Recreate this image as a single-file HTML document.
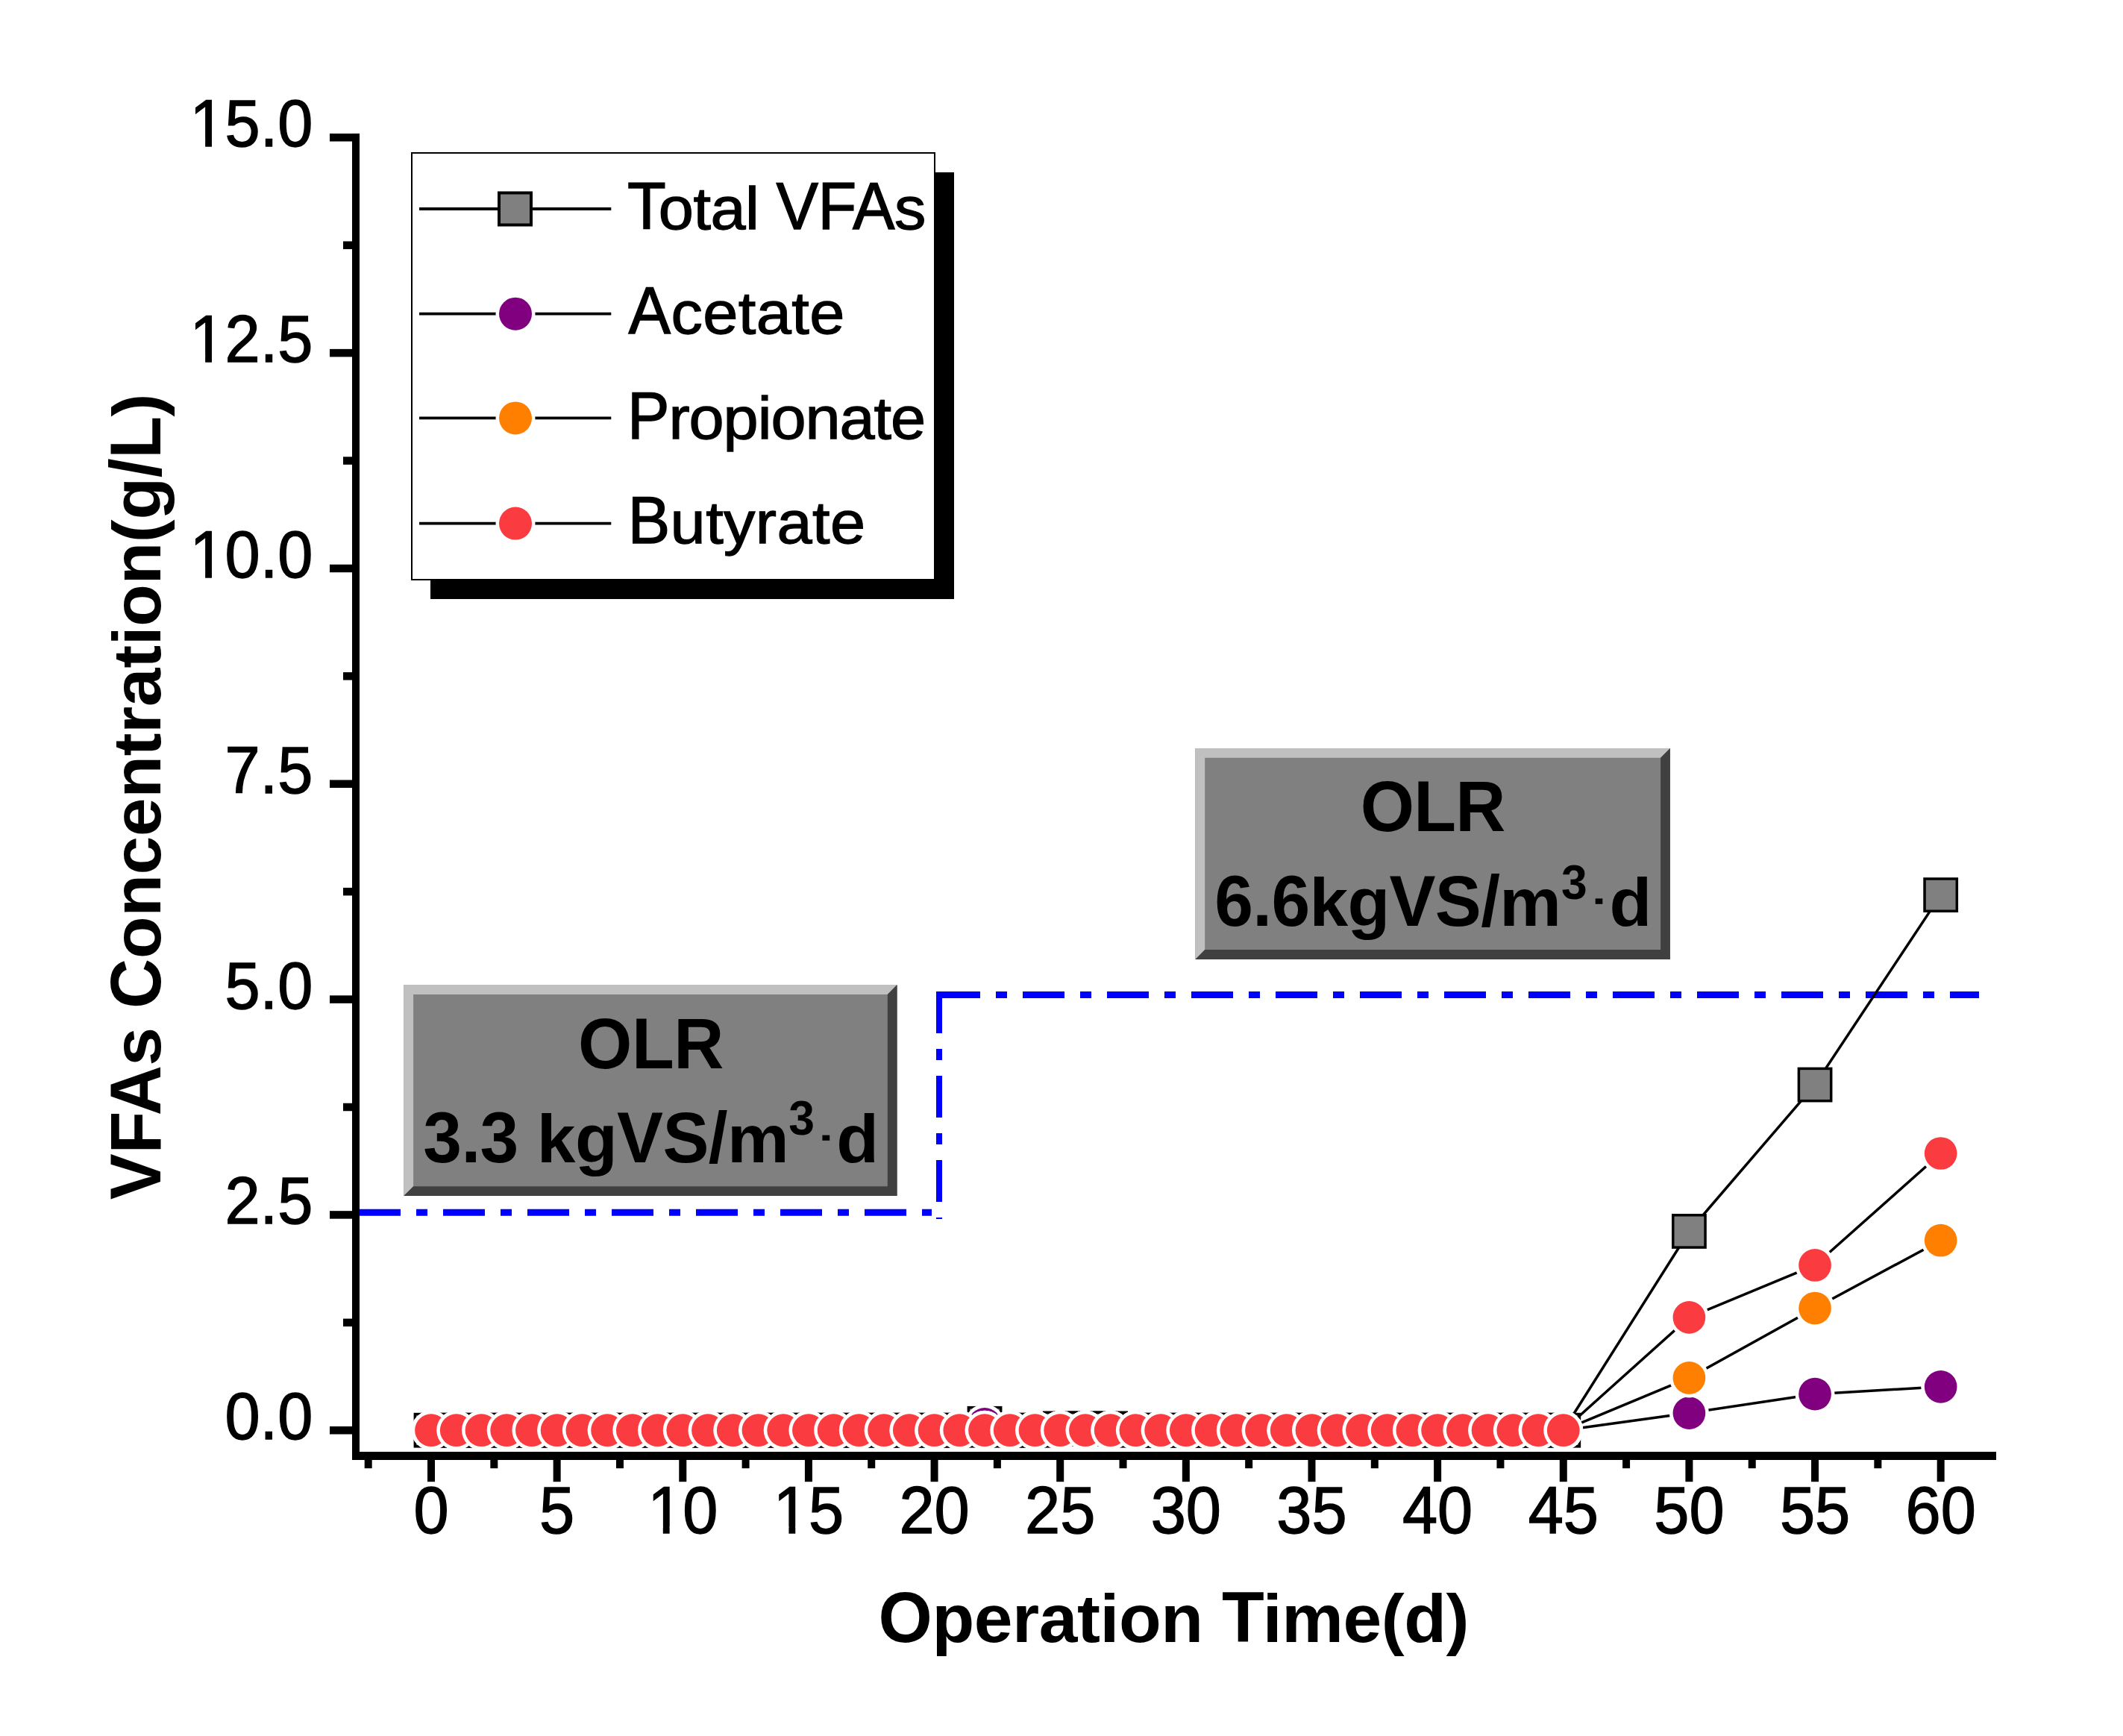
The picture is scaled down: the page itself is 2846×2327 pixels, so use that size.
<!DOCTYPE html><html><head><meta charset="utf-8"><style>html,body{margin:0;padding:0;background:#fff;overflow:hidden}svg{display:block}</style></head><body>
<svg width="2846" height="2327" viewBox="0 0 2846 2327" style="font-family:'Liberation Sans',sans-serif">
<rect x="0" y="0" width="2846" height="2327" fill="#fff"/>
<rect x="541.3" y="1320.1" width="661.3" height="282.9" fill="#808080"/>
<polygon points="541.3,1320.1 1202.6,1320.1 1189.8,1332.9 554.1,1332.9 554.1,1590.2 541.3,1603" fill="#C0C0C0"/>
<polygon points="1202.6,1320.1 1202.6,1603 541.3,1603 554.1,1590.2 1189.8,1590.2 1189.8,1332.9" fill="#404040"/>
<rect x="1602.4" y="1003" width="636.5" height="282.9" fill="#808080"/>
<polygon points="1602.4,1003 2238.9,1003 2226.1,1015.8 1615.2,1015.8 1615.2,1273.1 1602.4,1285.9" fill="#C0C0C0"/>
<polygon points="2238.9,1003 2238.9,1285.9 1602.4,1285.9 1615.2,1273.1 2226.1,1273.1 2226.1,1015.8" fill="#404040"/>
<text transform="translate(775.10,1431.70) scale(0.9607,1)" font-size="96.8" font-weight="bold" fill="#000" style="letter-spacing:-0.468px">OLR</text>
<text transform="translate(567.30,1557.80) scale(0.9607,1.0)" font-size="96.8" font-weight="bold" fill="#000" style="letter-spacing:-0.659px">3.3</text>
<text transform="translate(719.86,1557.80) scale(0.9607,0.945)" font-size="96.8" font-weight="bold" fill="#000" style="letter-spacing:-0.659px">kg</text>
<text transform="translate(827.10,1557.80) scale(0.9607,1.0)" font-size="96.8" font-weight="bold" fill="#000" style="letter-spacing:-0.659px">VS/</text>
<text transform="translate(975.07,1557.80) scale(0.9607,0.945)" font-size="96.8" font-weight="bold" fill="#000" style="letter-spacing:-0.659px">m</text>
<text transform="translate(1057.30,1521.40) scale(0.9607,1)" font-size="65" font-weight="bold" fill="#000">3</text>
<text transform="translate(1121.30,1557.80) scale(0.9607,0.945)" font-size="96.8" font-weight="bold" fill="#000">d</text>
<text transform="translate(1823.70,1114.40) scale(0.9607,1)" font-size="96.8" font-weight="bold" fill="#000" style="letter-spacing:-0.781px">OLR</text>
<text transform="translate(1628.30,1241.20) scale(0.9607,1.0)" font-size="96.8" font-weight="bold" fill="#000" style="letter-spacing:-0.742px">6.6</text>
<text transform="translate(1755.41,1241.20) scale(0.9607,0.945)" font-size="96.8" font-weight="bold" fill="#000" style="letter-spacing:-0.742px">kg</text>
<text transform="translate(1862.51,1241.20) scale(0.9607,1.0)" font-size="96.8" font-weight="bold" fill="#000" style="letter-spacing:-0.742px">VS/</text>
<text transform="translate(2010.25,1241.20) scale(0.9607,0.945)" font-size="96.8" font-weight="bold" fill="#000" style="letter-spacing:-0.742px">m</text>
<text transform="translate(2093.00,1204.50) scale(0.9607,1)" font-size="65" font-weight="bold" fill="#000">3</text>
<text transform="translate(2157.50,1241.20) scale(0.9607,0.945)" font-size="96.8" font-weight="bold" fill="#000">d</text>
<rect x="1102.4" y="1521.6" width="9.8" height="7.2" fill="#000"/>
<rect x="2138.7" y="1204.4" width="9.6" height="7.4" fill="#000"/>
<line x1="481" y1="1625.2" x2="1249" y2="1625.2" stroke="#0000FF" stroke-width="9" stroke-dasharray="56 21 15 21"/>
<line x1="1259" y1="1329" x2="1259" y2="1634" stroke="#0000FF" stroke-width="8" stroke-dasharray="56 21 15 21"/>
<line x1="1258" y1="1333.4" x2="2653" y2="1333.4" stroke="#0000FF" stroke-width="9" stroke-dasharray="56 21 15 21"/>
<rect x="1255" y="1329" width="4" height="9" fill="#0000FF"/>
<path d="M578.00,1917.20 L611.73,1917.20 L645.46,1917.20 L679.18,1917.20 L712.91,1917.20 L746.64,1917.20 L780.37,1917.20 L814.10,1917.20 L847.82,1917.20 L881.55,1917.20 L915.28,1917.20 L949.01,1917.20 L982.74,1917.20 L1016.46,1917.20 L1050.19,1917.20 L1083.92,1917.20 L1117.65,1917.20 L1151.38,1917.20 L1185.10,1917.20 L1218.83,1917.20 L1252.56,1917.20 L1286.29,1917.20 L1320.02,1908.30 L1353.74,1917.20 L1387.47,1917.20 L1421.20,1914.89 L1454.93,1914.89 L1488.66,1914.89 L1522.38,1917.20 L1556.11,1917.20 L1589.84,1917.20 L1623.57,1917.20 L1657.30,1917.20 L1691.02,1917.20 L1724.75,1917.20 L1758.48,1917.20 L1792.21,1917.20 L1825.94,1917.20 L1859.66,1917.20 L1893.39,1917.20 L1927.12,1917.20 L1960.85,1917.20 L1994.58,1917.20 L2028.30,1917.20 L2062.03,1917.20 L2095.76,1917.20 L2264.40,1650.44 L2433.04,1454.04 L2601.68,1199.64" fill="none" stroke="#000" stroke-width="3.5" stroke-linejoin="round"/>
<rect x="556.35" y="1895.55" width="43.3" height="43.3" fill="#808080" stroke="#000" stroke-width="3.5"/>
<rect x="590.08" y="1895.55" width="43.3" height="43.3" fill="#808080" stroke="#000" stroke-width="3.5"/>
<rect x="623.81" y="1895.55" width="43.3" height="43.3" fill="#808080" stroke="#000" stroke-width="3.5"/>
<rect x="657.53" y="1895.55" width="43.3" height="43.3" fill="#808080" stroke="#000" stroke-width="3.5"/>
<rect x="691.26" y="1895.55" width="43.3" height="43.3" fill="#808080" stroke="#000" stroke-width="3.5"/>
<rect x="724.99" y="1895.55" width="43.3" height="43.3" fill="#808080" stroke="#000" stroke-width="3.5"/>
<rect x="758.72" y="1895.55" width="43.3" height="43.3" fill="#808080" stroke="#000" stroke-width="3.5"/>
<rect x="792.45" y="1895.55" width="43.3" height="43.3" fill="#808080" stroke="#000" stroke-width="3.5"/>
<rect x="826.17" y="1895.55" width="43.3" height="43.3" fill="#808080" stroke="#000" stroke-width="3.5"/>
<rect x="859.90" y="1895.55" width="43.3" height="43.3" fill="#808080" stroke="#000" stroke-width="3.5"/>
<rect x="893.63" y="1895.55" width="43.3" height="43.3" fill="#808080" stroke="#000" stroke-width="3.5"/>
<rect x="927.36" y="1895.55" width="43.3" height="43.3" fill="#808080" stroke="#000" stroke-width="3.5"/>
<rect x="961.09" y="1895.55" width="43.3" height="43.3" fill="#808080" stroke="#000" stroke-width="3.5"/>
<rect x="994.81" y="1895.55" width="43.3" height="43.3" fill="#808080" stroke="#000" stroke-width="3.5"/>
<rect x="1028.54" y="1895.55" width="43.3" height="43.3" fill="#808080" stroke="#000" stroke-width="3.5"/>
<rect x="1062.27" y="1895.55" width="43.3" height="43.3" fill="#808080" stroke="#000" stroke-width="3.5"/>
<rect x="1096.00" y="1895.55" width="43.3" height="43.3" fill="#808080" stroke="#000" stroke-width="3.5"/>
<rect x="1129.73" y="1895.55" width="43.3" height="43.3" fill="#808080" stroke="#000" stroke-width="3.5"/>
<rect x="1163.45" y="1895.55" width="43.3" height="43.3" fill="#808080" stroke="#000" stroke-width="3.5"/>
<rect x="1197.18" y="1895.55" width="43.3" height="43.3" fill="#808080" stroke="#000" stroke-width="3.5"/>
<rect x="1230.91" y="1895.55" width="43.3" height="43.3" fill="#808080" stroke="#000" stroke-width="3.5"/>
<rect x="1264.64" y="1895.55" width="43.3" height="43.3" fill="#808080" stroke="#000" stroke-width="3.5"/>
<rect x="1298.37" y="1886.65" width="43.3" height="43.3" fill="#808080" stroke="#000" stroke-width="3.5"/>
<rect x="1332.09" y="1895.55" width="43.3" height="43.3" fill="#808080" stroke="#000" stroke-width="3.5"/>
<rect x="1365.82" y="1895.55" width="43.3" height="43.3" fill="#808080" stroke="#000" stroke-width="3.5"/>
<rect x="1399.55" y="1893.24" width="43.3" height="43.3" fill="#808080" stroke="#000" stroke-width="3.5"/>
<rect x="1433.28" y="1893.24" width="43.3" height="43.3" fill="#808080" stroke="#000" stroke-width="3.5"/>
<rect x="1467.01" y="1893.24" width="43.3" height="43.3" fill="#808080" stroke="#000" stroke-width="3.5"/>
<rect x="1500.73" y="1895.55" width="43.3" height="43.3" fill="#808080" stroke="#000" stroke-width="3.5"/>
<rect x="1534.46" y="1895.55" width="43.3" height="43.3" fill="#808080" stroke="#000" stroke-width="3.5"/>
<rect x="1568.19" y="1895.55" width="43.3" height="43.3" fill="#808080" stroke="#000" stroke-width="3.5"/>
<rect x="1601.92" y="1895.55" width="43.3" height="43.3" fill="#808080" stroke="#000" stroke-width="3.5"/>
<rect x="1635.65" y="1895.55" width="43.3" height="43.3" fill="#808080" stroke="#000" stroke-width="3.5"/>
<rect x="1669.37" y="1895.55" width="43.3" height="43.3" fill="#808080" stroke="#000" stroke-width="3.5"/>
<rect x="1703.10" y="1895.55" width="43.3" height="43.3" fill="#808080" stroke="#000" stroke-width="3.5"/>
<rect x="1736.83" y="1895.55" width="43.3" height="43.3" fill="#808080" stroke="#000" stroke-width="3.5"/>
<rect x="1770.56" y="1895.55" width="43.3" height="43.3" fill="#808080" stroke="#000" stroke-width="3.5"/>
<rect x="1804.29" y="1895.55" width="43.3" height="43.3" fill="#808080" stroke="#000" stroke-width="3.5"/>
<rect x="1838.01" y="1895.55" width="43.3" height="43.3" fill="#808080" stroke="#000" stroke-width="3.5"/>
<rect x="1871.74" y="1895.55" width="43.3" height="43.3" fill="#808080" stroke="#000" stroke-width="3.5"/>
<rect x="1905.47" y="1895.55" width="43.3" height="43.3" fill="#808080" stroke="#000" stroke-width="3.5"/>
<rect x="1939.20" y="1895.55" width="43.3" height="43.3" fill="#808080" stroke="#000" stroke-width="3.5"/>
<rect x="1972.93" y="1895.55" width="43.3" height="43.3" fill="#808080" stroke="#000" stroke-width="3.5"/>
<rect x="2006.65" y="1895.55" width="43.3" height="43.3" fill="#808080" stroke="#000" stroke-width="3.5"/>
<rect x="2040.38" y="1895.55" width="43.3" height="43.3" fill="#808080" stroke="#000" stroke-width="3.5"/>
<rect x="2074.11" y="1895.55" width="43.3" height="43.3" fill="#808080" stroke="#000" stroke-width="3.5"/>
<rect x="2242.75" y="1628.79" width="43.3" height="43.3" fill="#808080" stroke="#000" stroke-width="3.5"/>
<rect x="2411.39" y="1432.39" width="43.3" height="43.3" fill="#808080" stroke="#000" stroke-width="3.5"/>
<rect x="2580.03" y="1177.99" width="43.3" height="43.3" fill="#808080" stroke="#000" stroke-width="3.5"/>
<path d="M578.00,1917.20 L611.73,1917.20 L645.46,1917.20 L679.18,1917.20 L712.91,1917.20 L746.64,1917.20 L780.37,1917.20 L814.10,1917.20 L847.82,1917.20 L881.55,1917.20 L915.28,1917.20 L949.01,1917.20 L982.74,1917.20 L1016.46,1917.20 L1050.19,1917.20 L1083.92,1917.20 L1117.65,1917.20 L1151.38,1917.20 L1185.10,1917.20 L1218.83,1917.20 L1252.56,1917.20 L1286.29,1917.20 L1320.02,1908.82 L1353.74,1917.20 L1387.47,1917.20 L1421.20,1917.20 L1454.93,1917.20 L1488.66,1917.20 L1522.38,1917.20 L1556.11,1917.20 L1589.84,1917.20 L1623.57,1917.20 L1657.30,1917.20 L1691.02,1917.20 L1724.75,1917.20 L1758.48,1917.20 L1792.21,1917.20 L1825.94,1917.20 L1859.66,1917.20 L1893.39,1917.20 L1927.12,1917.20 L1960.85,1917.20 L1994.58,1917.20 L2028.30,1917.20 L2062.03,1917.20 L2095.76,1917.20 L2264.40,1894.09 L2433.04,1868.68 L2601.68,1858.86" fill="none" stroke="#000" stroke-width="3.5" stroke-linejoin="round"/>
<circle cx="578.00" cy="1917.20" r="26.5" fill="#fff"/><circle cx="578.00" cy="1917.20" r="21.85" fill="#800080"/>
<circle cx="611.73" cy="1917.20" r="26.5" fill="#fff"/><circle cx="611.73" cy="1917.20" r="21.85" fill="#800080"/>
<circle cx="645.46" cy="1917.20" r="26.5" fill="#fff"/><circle cx="645.46" cy="1917.20" r="21.85" fill="#800080"/>
<circle cx="679.18" cy="1917.20" r="26.5" fill="#fff"/><circle cx="679.18" cy="1917.20" r="21.85" fill="#800080"/>
<circle cx="712.91" cy="1917.20" r="26.5" fill="#fff"/><circle cx="712.91" cy="1917.20" r="21.85" fill="#800080"/>
<circle cx="746.64" cy="1917.20" r="26.5" fill="#fff"/><circle cx="746.64" cy="1917.20" r="21.85" fill="#800080"/>
<circle cx="780.37" cy="1917.20" r="26.5" fill="#fff"/><circle cx="780.37" cy="1917.20" r="21.85" fill="#800080"/>
<circle cx="814.10" cy="1917.20" r="26.5" fill="#fff"/><circle cx="814.10" cy="1917.20" r="21.85" fill="#800080"/>
<circle cx="847.82" cy="1917.20" r="26.5" fill="#fff"/><circle cx="847.82" cy="1917.20" r="21.85" fill="#800080"/>
<circle cx="881.55" cy="1917.20" r="26.5" fill="#fff"/><circle cx="881.55" cy="1917.20" r="21.85" fill="#800080"/>
<circle cx="915.28" cy="1917.20" r="26.5" fill="#fff"/><circle cx="915.28" cy="1917.20" r="21.85" fill="#800080"/>
<circle cx="949.01" cy="1917.20" r="26.5" fill="#fff"/><circle cx="949.01" cy="1917.20" r="21.85" fill="#800080"/>
<circle cx="982.74" cy="1917.20" r="26.5" fill="#fff"/><circle cx="982.74" cy="1917.20" r="21.85" fill="#800080"/>
<circle cx="1016.46" cy="1917.20" r="26.5" fill="#fff"/><circle cx="1016.46" cy="1917.20" r="21.85" fill="#800080"/>
<circle cx="1050.19" cy="1917.20" r="26.5" fill="#fff"/><circle cx="1050.19" cy="1917.20" r="21.85" fill="#800080"/>
<circle cx="1083.92" cy="1917.20" r="26.5" fill="#fff"/><circle cx="1083.92" cy="1917.20" r="21.85" fill="#800080"/>
<circle cx="1117.65" cy="1917.20" r="26.5" fill="#fff"/><circle cx="1117.65" cy="1917.20" r="21.85" fill="#800080"/>
<circle cx="1151.38" cy="1917.20" r="26.5" fill="#fff"/><circle cx="1151.38" cy="1917.20" r="21.85" fill="#800080"/>
<circle cx="1185.10" cy="1917.20" r="26.5" fill="#fff"/><circle cx="1185.10" cy="1917.20" r="21.85" fill="#800080"/>
<circle cx="1218.83" cy="1917.20" r="26.5" fill="#fff"/><circle cx="1218.83" cy="1917.20" r="21.85" fill="#800080"/>
<circle cx="1252.56" cy="1917.20" r="26.5" fill="#fff"/><circle cx="1252.56" cy="1917.20" r="21.85" fill="#800080"/>
<circle cx="1286.29" cy="1917.20" r="26.5" fill="#fff"/><circle cx="1286.29" cy="1917.20" r="21.85" fill="#800080"/>
<circle cx="1320.02" cy="1908.82" r="26.5" fill="#fff"/><circle cx="1320.02" cy="1908.82" r="21.85" fill="#800080"/>
<circle cx="1353.74" cy="1917.20" r="26.5" fill="#fff"/><circle cx="1353.74" cy="1917.20" r="21.85" fill="#800080"/>
<circle cx="1387.47" cy="1917.20" r="26.5" fill="#fff"/><circle cx="1387.47" cy="1917.20" r="21.85" fill="#800080"/>
<circle cx="1421.20" cy="1917.20" r="26.5" fill="#fff"/><circle cx="1421.20" cy="1917.20" r="21.85" fill="#800080"/>
<circle cx="1454.93" cy="1917.20" r="26.5" fill="#fff"/><circle cx="1454.93" cy="1917.20" r="21.85" fill="#800080"/>
<circle cx="1488.66" cy="1917.20" r="26.5" fill="#fff"/><circle cx="1488.66" cy="1917.20" r="21.85" fill="#800080"/>
<circle cx="1522.38" cy="1917.20" r="26.5" fill="#fff"/><circle cx="1522.38" cy="1917.20" r="21.85" fill="#800080"/>
<circle cx="1556.11" cy="1917.20" r="26.5" fill="#fff"/><circle cx="1556.11" cy="1917.20" r="21.85" fill="#800080"/>
<circle cx="1589.84" cy="1917.20" r="26.5" fill="#fff"/><circle cx="1589.84" cy="1917.20" r="21.85" fill="#800080"/>
<circle cx="1623.57" cy="1917.20" r="26.5" fill="#fff"/><circle cx="1623.57" cy="1917.20" r="21.85" fill="#800080"/>
<circle cx="1657.30" cy="1917.20" r="26.5" fill="#fff"/><circle cx="1657.30" cy="1917.20" r="21.85" fill="#800080"/>
<circle cx="1691.02" cy="1917.20" r="26.5" fill="#fff"/><circle cx="1691.02" cy="1917.20" r="21.85" fill="#800080"/>
<circle cx="1724.75" cy="1917.20" r="26.5" fill="#fff"/><circle cx="1724.75" cy="1917.20" r="21.85" fill="#800080"/>
<circle cx="1758.48" cy="1917.20" r="26.5" fill="#fff"/><circle cx="1758.48" cy="1917.20" r="21.85" fill="#800080"/>
<circle cx="1792.21" cy="1917.20" r="26.5" fill="#fff"/><circle cx="1792.21" cy="1917.20" r="21.85" fill="#800080"/>
<circle cx="1825.94" cy="1917.20" r="26.5" fill="#fff"/><circle cx="1825.94" cy="1917.20" r="21.85" fill="#800080"/>
<circle cx="1859.66" cy="1917.20" r="26.5" fill="#fff"/><circle cx="1859.66" cy="1917.20" r="21.85" fill="#800080"/>
<circle cx="1893.39" cy="1917.20" r="26.5" fill="#fff"/><circle cx="1893.39" cy="1917.20" r="21.85" fill="#800080"/>
<circle cx="1927.12" cy="1917.20" r="26.5" fill="#fff"/><circle cx="1927.12" cy="1917.20" r="21.85" fill="#800080"/>
<circle cx="1960.85" cy="1917.20" r="26.5" fill="#fff"/><circle cx="1960.85" cy="1917.20" r="21.85" fill="#800080"/>
<circle cx="1994.58" cy="1917.20" r="26.5" fill="#fff"/><circle cx="1994.58" cy="1917.20" r="21.85" fill="#800080"/>
<circle cx="2028.30" cy="1917.20" r="26.5" fill="#fff"/><circle cx="2028.30" cy="1917.20" r="21.85" fill="#800080"/>
<circle cx="2062.03" cy="1917.20" r="26.5" fill="#fff"/><circle cx="2062.03" cy="1917.20" r="21.85" fill="#800080"/>
<circle cx="2095.76" cy="1917.20" r="26.5" fill="#fff"/><circle cx="2095.76" cy="1917.20" r="21.85" fill="#800080"/>
<circle cx="2264.40" cy="1894.09" r="26.5" fill="#fff"/><circle cx="2264.40" cy="1894.09" r="21.85" fill="#800080"/>
<circle cx="2433.04" cy="1868.68" r="26.5" fill="#fff"/><circle cx="2433.04" cy="1868.68" r="21.85" fill="#800080"/>
<circle cx="2601.68" cy="1858.86" r="26.5" fill="#fff"/><circle cx="2601.68" cy="1858.86" r="21.85" fill="#800080"/>
<path d="M578.00,1917.20 L611.73,1917.20 L645.46,1917.20 L679.18,1917.20 L712.91,1917.20 L746.64,1917.20 L780.37,1917.20 L814.10,1917.20 L847.82,1917.20 L881.55,1917.20 L915.28,1917.20 L949.01,1917.20 L982.74,1917.20 L1016.46,1917.20 L1050.19,1917.20 L1083.92,1917.20 L1117.65,1917.20 L1151.38,1917.20 L1185.10,1917.20 L1218.83,1917.20 L1252.56,1917.20 L1286.29,1917.20 L1320.02,1917.20 L1353.74,1917.20 L1387.47,1917.20 L1421.20,1917.20 L1454.93,1917.20 L1488.66,1917.20 L1522.38,1917.20 L1556.11,1917.20 L1589.84,1917.20 L1623.57,1917.20 L1657.30,1917.20 L1691.02,1917.20 L1724.75,1917.20 L1758.48,1917.20 L1792.21,1917.20 L1825.94,1917.20 L1859.66,1917.20 L1893.39,1917.20 L1927.12,1917.20 L1960.85,1917.20 L1994.58,1917.20 L2028.30,1917.20 L2062.03,1917.20 L2095.76,1917.20 L2264.40,1846.96 L2433.04,1753.49 L2601.68,1662.69" fill="none" stroke="#000" stroke-width="3.5" stroke-linejoin="round"/>
<circle cx="578.00" cy="1917.20" r="26.5" fill="#fff"/><circle cx="578.00" cy="1917.20" r="21.85" fill="#FF8000"/>
<circle cx="611.73" cy="1917.20" r="26.5" fill="#fff"/><circle cx="611.73" cy="1917.20" r="21.85" fill="#FF8000"/>
<circle cx="645.46" cy="1917.20" r="26.5" fill="#fff"/><circle cx="645.46" cy="1917.20" r="21.85" fill="#FF8000"/>
<circle cx="679.18" cy="1917.20" r="26.5" fill="#fff"/><circle cx="679.18" cy="1917.20" r="21.85" fill="#FF8000"/>
<circle cx="712.91" cy="1917.20" r="26.5" fill="#fff"/><circle cx="712.91" cy="1917.20" r="21.85" fill="#FF8000"/>
<circle cx="746.64" cy="1917.20" r="26.5" fill="#fff"/><circle cx="746.64" cy="1917.20" r="21.85" fill="#FF8000"/>
<circle cx="780.37" cy="1917.20" r="26.5" fill="#fff"/><circle cx="780.37" cy="1917.20" r="21.85" fill="#FF8000"/>
<circle cx="814.10" cy="1917.20" r="26.5" fill="#fff"/><circle cx="814.10" cy="1917.20" r="21.85" fill="#FF8000"/>
<circle cx="847.82" cy="1917.20" r="26.5" fill="#fff"/><circle cx="847.82" cy="1917.20" r="21.85" fill="#FF8000"/>
<circle cx="881.55" cy="1917.20" r="26.5" fill="#fff"/><circle cx="881.55" cy="1917.20" r="21.85" fill="#FF8000"/>
<circle cx="915.28" cy="1917.20" r="26.5" fill="#fff"/><circle cx="915.28" cy="1917.20" r="21.85" fill="#FF8000"/>
<circle cx="949.01" cy="1917.20" r="26.5" fill="#fff"/><circle cx="949.01" cy="1917.20" r="21.85" fill="#FF8000"/>
<circle cx="982.74" cy="1917.20" r="26.5" fill="#fff"/><circle cx="982.74" cy="1917.20" r="21.85" fill="#FF8000"/>
<circle cx="1016.46" cy="1917.20" r="26.5" fill="#fff"/><circle cx="1016.46" cy="1917.20" r="21.85" fill="#FF8000"/>
<circle cx="1050.19" cy="1917.20" r="26.5" fill="#fff"/><circle cx="1050.19" cy="1917.20" r="21.85" fill="#FF8000"/>
<circle cx="1083.92" cy="1917.20" r="26.5" fill="#fff"/><circle cx="1083.92" cy="1917.20" r="21.85" fill="#FF8000"/>
<circle cx="1117.65" cy="1917.20" r="26.5" fill="#fff"/><circle cx="1117.65" cy="1917.20" r="21.85" fill="#FF8000"/>
<circle cx="1151.38" cy="1917.20" r="26.5" fill="#fff"/><circle cx="1151.38" cy="1917.20" r="21.85" fill="#FF8000"/>
<circle cx="1185.10" cy="1917.20" r="26.5" fill="#fff"/><circle cx="1185.10" cy="1917.20" r="21.85" fill="#FF8000"/>
<circle cx="1218.83" cy="1917.20" r="26.5" fill="#fff"/><circle cx="1218.83" cy="1917.20" r="21.85" fill="#FF8000"/>
<circle cx="1252.56" cy="1917.20" r="26.5" fill="#fff"/><circle cx="1252.56" cy="1917.20" r="21.85" fill="#FF8000"/>
<circle cx="1286.29" cy="1917.20" r="26.5" fill="#fff"/><circle cx="1286.29" cy="1917.20" r="21.85" fill="#FF8000"/>
<circle cx="1320.02" cy="1917.20" r="26.5" fill="#fff"/><circle cx="1320.02" cy="1917.20" r="21.85" fill="#FF8000"/>
<circle cx="1353.74" cy="1917.20" r="26.5" fill="#fff"/><circle cx="1353.74" cy="1917.20" r="21.85" fill="#FF8000"/>
<circle cx="1387.47" cy="1917.20" r="26.5" fill="#fff"/><circle cx="1387.47" cy="1917.20" r="21.85" fill="#FF8000"/>
<circle cx="1421.20" cy="1917.20" r="26.5" fill="#fff"/><circle cx="1421.20" cy="1917.20" r="21.85" fill="#FF8000"/>
<circle cx="1454.93" cy="1917.20" r="26.5" fill="#fff"/><circle cx="1454.93" cy="1917.20" r="21.85" fill="#FF8000"/>
<circle cx="1488.66" cy="1917.20" r="26.5" fill="#fff"/><circle cx="1488.66" cy="1917.20" r="21.85" fill="#FF8000"/>
<circle cx="1522.38" cy="1917.20" r="26.5" fill="#fff"/><circle cx="1522.38" cy="1917.20" r="21.85" fill="#FF8000"/>
<circle cx="1556.11" cy="1917.20" r="26.5" fill="#fff"/><circle cx="1556.11" cy="1917.20" r="21.85" fill="#FF8000"/>
<circle cx="1589.84" cy="1917.20" r="26.5" fill="#fff"/><circle cx="1589.84" cy="1917.20" r="21.85" fill="#FF8000"/>
<circle cx="1623.57" cy="1917.20" r="26.5" fill="#fff"/><circle cx="1623.57" cy="1917.20" r="21.85" fill="#FF8000"/>
<circle cx="1657.30" cy="1917.20" r="26.5" fill="#fff"/><circle cx="1657.30" cy="1917.20" r="21.85" fill="#FF8000"/>
<circle cx="1691.02" cy="1917.20" r="26.5" fill="#fff"/><circle cx="1691.02" cy="1917.20" r="21.85" fill="#FF8000"/>
<circle cx="1724.75" cy="1917.20" r="26.5" fill="#fff"/><circle cx="1724.75" cy="1917.20" r="21.85" fill="#FF8000"/>
<circle cx="1758.48" cy="1917.20" r="26.5" fill="#fff"/><circle cx="1758.48" cy="1917.20" r="21.85" fill="#FF8000"/>
<circle cx="1792.21" cy="1917.20" r="26.5" fill="#fff"/><circle cx="1792.21" cy="1917.20" r="21.85" fill="#FF8000"/>
<circle cx="1825.94" cy="1917.20" r="26.5" fill="#fff"/><circle cx="1825.94" cy="1917.20" r="21.85" fill="#FF8000"/>
<circle cx="1859.66" cy="1917.20" r="26.5" fill="#fff"/><circle cx="1859.66" cy="1917.20" r="21.85" fill="#FF8000"/>
<circle cx="1893.39" cy="1917.20" r="26.5" fill="#fff"/><circle cx="1893.39" cy="1917.20" r="21.85" fill="#FF8000"/>
<circle cx="1927.12" cy="1917.20" r="26.5" fill="#fff"/><circle cx="1927.12" cy="1917.20" r="21.85" fill="#FF8000"/>
<circle cx="1960.85" cy="1917.20" r="26.5" fill="#fff"/><circle cx="1960.85" cy="1917.20" r="21.85" fill="#FF8000"/>
<circle cx="1994.58" cy="1917.20" r="26.5" fill="#fff"/><circle cx="1994.58" cy="1917.20" r="21.85" fill="#FF8000"/>
<circle cx="2028.30" cy="1917.20" r="26.5" fill="#fff"/><circle cx="2028.30" cy="1917.20" r="21.85" fill="#FF8000"/>
<circle cx="2062.03" cy="1917.20" r="26.5" fill="#fff"/><circle cx="2062.03" cy="1917.20" r="21.85" fill="#FF8000"/>
<circle cx="2095.76" cy="1917.20" r="26.5" fill="#fff"/><circle cx="2095.76" cy="1917.20" r="21.85" fill="#FF8000"/>
<circle cx="2264.40" cy="1846.96" r="26.5" fill="#fff"/><circle cx="2264.40" cy="1846.96" r="21.85" fill="#FF8000"/>
<circle cx="2433.04" cy="1753.49" r="26.5" fill="#fff"/><circle cx="2433.04" cy="1753.49" r="21.85" fill="#FF8000"/>
<circle cx="2601.68" cy="1662.69" r="26.5" fill="#fff"/><circle cx="2601.68" cy="1662.69" r="21.85" fill="#FF8000"/>
<path d="M578.00,1917.20 L611.73,1917.20 L645.46,1917.20 L679.18,1917.20 L712.91,1917.20 L746.64,1917.20 L780.37,1917.20 L814.10,1917.20 L847.82,1917.20 L881.55,1917.20 L915.28,1917.20 L949.01,1917.20 L982.74,1917.20 L1016.46,1917.20 L1050.19,1917.20 L1083.92,1917.20 L1117.65,1917.20 L1151.38,1917.20 L1185.10,1917.20 L1218.83,1917.20 L1252.56,1917.20 L1286.29,1917.20 L1320.02,1917.20 L1353.74,1917.20 L1387.47,1917.20 L1421.20,1917.20 L1454.93,1917.20 L1488.66,1917.20 L1522.38,1917.20 L1556.11,1917.20 L1589.84,1917.20 L1623.57,1917.20 L1657.30,1917.20 L1691.02,1917.20 L1724.75,1917.20 L1758.48,1917.20 L1792.21,1917.20 L1825.94,1917.20 L1859.66,1917.20 L1893.39,1917.20 L1927.12,1917.20 L1960.85,1917.20 L1994.58,1917.20 L2028.30,1917.20 L2062.03,1917.20 L2095.76,1917.20 L2264.40,1765.86 L2433.04,1695.96 L2601.68,1546.00" fill="none" stroke="#000" stroke-width="3.5" stroke-linejoin="round"/>
<circle cx="578.00" cy="1917.20" r="26.5" fill="#fff"/><circle cx="578.00" cy="1917.20" r="21.85" fill="#FA3B3F"/>
<circle cx="611.73" cy="1917.20" r="26.5" fill="#fff"/><circle cx="611.73" cy="1917.20" r="21.85" fill="#FA3B3F"/>
<circle cx="645.46" cy="1917.20" r="26.5" fill="#fff"/><circle cx="645.46" cy="1917.20" r="21.85" fill="#FA3B3F"/>
<circle cx="679.18" cy="1917.20" r="26.5" fill="#fff"/><circle cx="679.18" cy="1917.20" r="21.85" fill="#FA3B3F"/>
<circle cx="712.91" cy="1917.20" r="26.5" fill="#fff"/><circle cx="712.91" cy="1917.20" r="21.85" fill="#FA3B3F"/>
<circle cx="746.64" cy="1917.20" r="26.5" fill="#fff"/><circle cx="746.64" cy="1917.20" r="21.85" fill="#FA3B3F"/>
<circle cx="780.37" cy="1917.20" r="26.5" fill="#fff"/><circle cx="780.37" cy="1917.20" r="21.85" fill="#FA3B3F"/>
<circle cx="814.10" cy="1917.20" r="26.5" fill="#fff"/><circle cx="814.10" cy="1917.20" r="21.85" fill="#FA3B3F"/>
<circle cx="847.82" cy="1917.20" r="26.5" fill="#fff"/><circle cx="847.82" cy="1917.20" r="21.85" fill="#FA3B3F"/>
<circle cx="881.55" cy="1917.20" r="26.5" fill="#fff"/><circle cx="881.55" cy="1917.20" r="21.85" fill="#FA3B3F"/>
<circle cx="915.28" cy="1917.20" r="26.5" fill="#fff"/><circle cx="915.28" cy="1917.20" r="21.85" fill="#FA3B3F"/>
<circle cx="949.01" cy="1917.20" r="26.5" fill="#fff"/><circle cx="949.01" cy="1917.20" r="21.85" fill="#FA3B3F"/>
<circle cx="982.74" cy="1917.20" r="26.5" fill="#fff"/><circle cx="982.74" cy="1917.20" r="21.85" fill="#FA3B3F"/>
<circle cx="1016.46" cy="1917.20" r="26.5" fill="#fff"/><circle cx="1016.46" cy="1917.20" r="21.85" fill="#FA3B3F"/>
<circle cx="1050.19" cy="1917.20" r="26.5" fill="#fff"/><circle cx="1050.19" cy="1917.20" r="21.85" fill="#FA3B3F"/>
<circle cx="1083.92" cy="1917.20" r="26.5" fill="#fff"/><circle cx="1083.92" cy="1917.20" r="21.85" fill="#FA3B3F"/>
<circle cx="1117.65" cy="1917.20" r="26.5" fill="#fff"/><circle cx="1117.65" cy="1917.20" r="21.85" fill="#FA3B3F"/>
<circle cx="1151.38" cy="1917.20" r="26.5" fill="#fff"/><circle cx="1151.38" cy="1917.20" r="21.85" fill="#FA3B3F"/>
<circle cx="1185.10" cy="1917.20" r="26.5" fill="#fff"/><circle cx="1185.10" cy="1917.20" r="21.85" fill="#FA3B3F"/>
<circle cx="1218.83" cy="1917.20" r="26.5" fill="#fff"/><circle cx="1218.83" cy="1917.20" r="21.85" fill="#FA3B3F"/>
<circle cx="1252.56" cy="1917.20" r="26.5" fill="#fff"/><circle cx="1252.56" cy="1917.20" r="21.85" fill="#FA3B3F"/>
<circle cx="1286.29" cy="1917.20" r="26.5" fill="#fff"/><circle cx="1286.29" cy="1917.20" r="21.85" fill="#FA3B3F"/>
<circle cx="1320.02" cy="1917.20" r="26.5" fill="#fff"/><circle cx="1320.02" cy="1917.20" r="21.85" fill="#FA3B3F"/>
<circle cx="1353.74" cy="1917.20" r="26.5" fill="#fff"/><circle cx="1353.74" cy="1917.20" r="21.85" fill="#FA3B3F"/>
<circle cx="1387.47" cy="1917.20" r="26.5" fill="#fff"/><circle cx="1387.47" cy="1917.20" r="21.85" fill="#FA3B3F"/>
<circle cx="1421.20" cy="1917.20" r="26.5" fill="#fff"/><circle cx="1421.20" cy="1917.20" r="21.85" fill="#FA3B3F"/>
<circle cx="1454.93" cy="1917.20" r="26.5" fill="#fff"/><circle cx="1454.93" cy="1917.20" r="21.85" fill="#FA3B3F"/>
<circle cx="1488.66" cy="1917.20" r="26.5" fill="#fff"/><circle cx="1488.66" cy="1917.20" r="21.85" fill="#FA3B3F"/>
<circle cx="1522.38" cy="1917.20" r="26.5" fill="#fff"/><circle cx="1522.38" cy="1917.20" r="21.85" fill="#FA3B3F"/>
<circle cx="1556.11" cy="1917.20" r="26.5" fill="#fff"/><circle cx="1556.11" cy="1917.20" r="21.85" fill="#FA3B3F"/>
<circle cx="1589.84" cy="1917.20" r="26.5" fill="#fff"/><circle cx="1589.84" cy="1917.20" r="21.85" fill="#FA3B3F"/>
<circle cx="1623.57" cy="1917.20" r="26.5" fill="#fff"/><circle cx="1623.57" cy="1917.20" r="21.85" fill="#FA3B3F"/>
<circle cx="1657.30" cy="1917.20" r="26.5" fill="#fff"/><circle cx="1657.30" cy="1917.20" r="21.85" fill="#FA3B3F"/>
<circle cx="1691.02" cy="1917.20" r="26.5" fill="#fff"/><circle cx="1691.02" cy="1917.20" r="21.85" fill="#FA3B3F"/>
<circle cx="1724.75" cy="1917.20" r="26.5" fill="#fff"/><circle cx="1724.75" cy="1917.20" r="21.85" fill="#FA3B3F"/>
<circle cx="1758.48" cy="1917.20" r="26.5" fill="#fff"/><circle cx="1758.48" cy="1917.20" r="21.85" fill="#FA3B3F"/>
<circle cx="1792.21" cy="1917.20" r="26.5" fill="#fff"/><circle cx="1792.21" cy="1917.20" r="21.85" fill="#FA3B3F"/>
<circle cx="1825.94" cy="1917.20" r="26.5" fill="#fff"/><circle cx="1825.94" cy="1917.20" r="21.85" fill="#FA3B3F"/>
<circle cx="1859.66" cy="1917.20" r="26.5" fill="#fff"/><circle cx="1859.66" cy="1917.20" r="21.85" fill="#FA3B3F"/>
<circle cx="1893.39" cy="1917.20" r="26.5" fill="#fff"/><circle cx="1893.39" cy="1917.20" r="21.85" fill="#FA3B3F"/>
<circle cx="1927.12" cy="1917.20" r="26.5" fill="#fff"/><circle cx="1927.12" cy="1917.20" r="21.85" fill="#FA3B3F"/>
<circle cx="1960.85" cy="1917.20" r="26.5" fill="#fff"/><circle cx="1960.85" cy="1917.20" r="21.85" fill="#FA3B3F"/>
<circle cx="1994.58" cy="1917.20" r="26.5" fill="#fff"/><circle cx="1994.58" cy="1917.20" r="21.85" fill="#FA3B3F"/>
<circle cx="2028.30" cy="1917.20" r="26.5" fill="#fff"/><circle cx="2028.30" cy="1917.20" r="21.85" fill="#FA3B3F"/>
<circle cx="2062.03" cy="1917.20" r="26.5" fill="#fff"/><circle cx="2062.03" cy="1917.20" r="21.85" fill="#FA3B3F"/>
<circle cx="2095.76" cy="1917.20" r="26.5" fill="#fff"/><circle cx="2095.76" cy="1917.20" r="21.85" fill="#FA3B3F"/>
<circle cx="2264.40" cy="1765.86" r="26.5" fill="#fff"/><circle cx="2264.40" cy="1765.86" r="21.85" fill="#FA3B3F"/>
<circle cx="2433.04" cy="1695.96" r="26.5" fill="#fff"/><circle cx="2433.04" cy="1695.96" r="21.85" fill="#FA3B3F"/>
<circle cx="2601.68" cy="1546.00" r="26.5" fill="#fff"/><circle cx="2601.68" cy="1546.00" r="21.85" fill="#FA3B3F"/>
<rect x="472" y="179" width="10" height="1778" fill="#000"/>
<rect x="472" y="1946" width="2204" height="11" fill="#000"/>
<rect x="442" y="1912.00" width="32" height="10.5" fill="#000"/>
<rect x="460" y="1767.59" width="14" height="10.5" fill="#000"/>
<rect x="442" y="1623.17" width="32" height="10.5" fill="#000"/>
<rect x="460" y="1478.76" width="14" height="10.5" fill="#000"/>
<rect x="442" y="1334.35" width="32" height="10.5" fill="#000"/>
<rect x="460" y="1189.94" width="14" height="10.5" fill="#000"/>
<rect x="442" y="1045.52" width="32" height="10.5" fill="#000"/>
<rect x="460" y="901.11" width="14" height="10.5" fill="#000"/>
<rect x="442" y="756.70" width="32" height="10.5" fill="#000"/>
<rect x="460" y="612.29" width="14" height="10.5" fill="#000"/>
<rect x="442" y="467.88" width="32" height="10.5" fill="#000"/>
<rect x="460" y="323.46" width="14" height="10.5" fill="#000"/>
<rect x="442" y="179.05" width="32" height="10.5" fill="#000"/>
<rect x="488.68" y="1950" width="10" height="18.2" fill="#000"/>
<rect x="573.00" y="1950" width="10" height="36.2" fill="#000"/>
<rect x="657.32" y="1950" width="10" height="18.2" fill="#000"/>
<rect x="741.64" y="1950" width="10" height="36.2" fill="#000"/>
<rect x="825.96" y="1950" width="10" height="18.2" fill="#000"/>
<rect x="910.28" y="1950" width="10" height="36.2" fill="#000"/>
<rect x="994.60" y="1950" width="10" height="18.2" fill="#000"/>
<rect x="1078.92" y="1950" width="10" height="36.2" fill="#000"/>
<rect x="1163.24" y="1950" width="10" height="18.2" fill="#000"/>
<rect x="1247.56" y="1950" width="10" height="36.2" fill="#000"/>
<rect x="1331.88" y="1950" width="10" height="18.2" fill="#000"/>
<rect x="1416.20" y="1950" width="10" height="36.2" fill="#000"/>
<rect x="1500.52" y="1950" width="10" height="18.2" fill="#000"/>
<rect x="1584.84" y="1950" width="10" height="36.2" fill="#000"/>
<rect x="1669.16" y="1950" width="10" height="18.2" fill="#000"/>
<rect x="1753.48" y="1950" width="10" height="36.2" fill="#000"/>
<rect x="1837.80" y="1950" width="10" height="18.2" fill="#000"/>
<rect x="1922.12" y="1950" width="10" height="36.2" fill="#000"/>
<rect x="2006.44" y="1950" width="10" height="18.2" fill="#000"/>
<rect x="2090.76" y="1950" width="10" height="36.2" fill="#000"/>
<rect x="2175.08" y="1950" width="10" height="18.2" fill="#000"/>
<rect x="2259.40" y="1950" width="10" height="36.2" fill="#000"/>
<rect x="2343.72" y="1950" width="10" height="18.2" fill="#000"/>
<rect x="2428.04" y="1950" width="10" height="36.2" fill="#000"/>
<rect x="2512.36" y="1950" width="10" height="18.2" fill="#000"/>
<rect x="2596.68" y="1950" width="10" height="36.2" fill="#000"/>
<text transform="translate(254.50,196.25) scale(0.9617,1)" font-size="88.1" font-weight="normal" fill="#000" stroke="#000" stroke-width="1.4">15.0</text>
<rect x="258.84" y="187.77" width="16.29" height="10.18" fill="#fff"/>
<rect x="283.97" y="187.77" width="15.63" height="10.18" fill="#fff"/>
<text transform="translate(254.50,485.08) scale(0.9617,1)" font-size="88.1" font-weight="normal" fill="#000" stroke="#000" stroke-width="1.4">12.5</text>
<rect x="258.84" y="476.59" width="16.29" height="10.18" fill="#fff"/>
<rect x="283.97" y="476.59" width="15.63" height="10.18" fill="#fff"/>
<text transform="translate(254.50,773.90) scale(0.9617,1)" font-size="88.1" font-weight="normal" fill="#000" stroke="#000" stroke-width="1.4">10.0</text>
<rect x="258.84" y="765.42" width="16.29" height="10.18" fill="#fff"/>
<rect x="283.97" y="765.42" width="15.63" height="10.18" fill="#fff"/>
<text transform="translate(301.50,1062.72) scale(0.9617,1)" font-size="88.1" font-weight="normal" fill="#000" stroke="#000" stroke-width="1.4">7.5</text>
<text transform="translate(301.50,1351.55) scale(0.9617,1)" font-size="88.1" font-weight="normal" fill="#000" stroke="#000" stroke-width="1.4">5.0</text>
<text transform="translate(301.50,1640.38) scale(0.9617,1)" font-size="88.1" font-weight="normal" fill="#000" stroke="#000" stroke-width="1.4">2.5</text>
<text transform="translate(301.50,1929.20) scale(0.9617,1)" font-size="88.1" font-weight="normal" fill="#000" stroke="#000" stroke-width="1.4">0.0</text>
<text transform="translate(554.44,2055.00) scale(0.9617,1)" font-size="88.1" font-weight="normal" fill="#000" stroke="#000" stroke-width="1.4">0</text>
<text transform="translate(723.08,2055.00) scale(0.9617,1)" font-size="88.1" font-weight="normal" fill="#000" stroke="#000" stroke-width="1.4">5</text>
<text transform="translate(868.16,2055.00) scale(0.9617,1)" font-size="88.1" font-weight="normal" fill="#000" stroke="#000" stroke-width="1.4">10</text>
<rect x="872.50" y="2046.52" width="16.29" height="10.18" fill="#fff"/>
<rect x="897.63" y="2046.52" width="15.63" height="10.18" fill="#fff"/>
<text transform="translate(1036.80,2055.00) scale(0.9617,1)" font-size="88.1" font-weight="normal" fill="#000" stroke="#000" stroke-width="1.4">15</text>
<rect x="1041.14" y="2046.52" width="16.29" height="10.18" fill="#fff"/>
<rect x="1066.27" y="2046.52" width="15.63" height="10.18" fill="#fff"/>
<text transform="translate(1205.44,2055.00) scale(0.9617,1)" font-size="88.1" font-weight="normal" fill="#000" stroke="#000" stroke-width="1.4">20</text>
<text transform="translate(1374.08,2055.00) scale(0.9617,1)" font-size="88.1" font-weight="normal" fill="#000" stroke="#000" stroke-width="1.4">25</text>
<text transform="translate(1542.72,2055.00) scale(0.9617,1)" font-size="88.1" font-weight="normal" fill="#000" stroke="#000" stroke-width="1.4">30</text>
<text transform="translate(1711.36,2055.00) scale(0.9617,1)" font-size="88.1" font-weight="normal" fill="#000" stroke="#000" stroke-width="1.4">35</text>
<text transform="translate(1880.00,2055.00) scale(0.9617,1)" font-size="88.1" font-weight="normal" fill="#000" stroke="#000" stroke-width="1.4">40</text>
<text transform="translate(2048.64,2055.00) scale(0.9617,1)" font-size="88.1" font-weight="normal" fill="#000" stroke="#000" stroke-width="1.4">45</text>
<text transform="translate(2217.28,2055.00) scale(0.9617,1)" font-size="88.1" font-weight="normal" fill="#000" stroke="#000" stroke-width="1.4">50</text>
<text transform="translate(2385.92,2055.00) scale(0.9617,1)" font-size="88.1" font-weight="normal" fill="#000" stroke="#000" stroke-width="1.4">55</text>
<text transform="translate(2554.56,2055.00) scale(0.9617,1)" font-size="88.1" font-weight="normal" fill="#000" stroke="#000" stroke-width="1.4">60</text>
<text transform="translate(1177.50,2200.90) scale(0.9607,1.0)" font-size="96.8" font-weight="bold" fill="#000" style="letter-spacing:-0.455px">O</text>
<text transform="translate(1249.38,2200.90) scale(0.9607,0.945)" font-size="96.8" font-weight="bold" fill="#000" style="letter-spacing:-0.455px">peration</text>
<text transform="translate(1638.08,2200.90) scale(0.9607,1.0)" font-size="96.8" font-weight="bold" fill="#000" style="letter-spacing:-0.455px">T</text>
<text transform="translate(1692.77,2200.90) scale(0.9607,0.945)" font-size="96.8" font-weight="bold" fill="#000" style="letter-spacing:-0.455px">ime(d)</text>
<text transform="translate(215.00,1608.20) rotate(-90) scale(0.9607,1.0)" font-size="96.8" font-weight="bold" fill="#000" style="letter-spacing:-0.435px">VFA</text>
<text transform="translate(215.00,1428.63) rotate(-90) scale(0.9607,0.945)" font-size="96.8" font-weight="bold" fill="#000" style="letter-spacing:-0.435px">s</text>
<text transform="translate(215.00,1351.91) rotate(-90) scale(0.9607,1.0)" font-size="96.8" font-weight="bold" fill="#000" style="letter-spacing:-0.435px">C</text>
<text transform="translate(215.00,1285.18) rotate(-90) scale(0.9607,0.945)" font-size="96.8" font-weight="bold" fill="#000" style="letter-spacing:-0.435px">oncentration(g</text>
<text transform="translate(215.00,640.19) rotate(-90) scale(0.9607,1.0)" font-size="96.8" font-weight="bold" fill="#000" style="letter-spacing:-0.435px">/L</text>
<text transform="translate(215.00,558.39) rotate(-90) scale(0.9607,0.945)" font-size="96.8" font-weight="bold" fill="#000" style="letter-spacing:-0.435px">)</text>
<rect x="577" y="231" width="702" height="572" fill="#000"/>
<rect x="552" y="205" width="701" height="572" fill="#fff" stroke="#000" stroke-width="2"/>
<line x1="562" y1="280.0" x2="819.3" y2="280.0" stroke="#000" stroke-width="3.8"/>
<rect x="669.0" y="258.5" width="43" height="43" fill="#808080" stroke="#000" stroke-width="4"/>
<text transform="translate(840.90,307.20) scale(0.9617,1.0)" font-size="88.1" font-weight="normal" fill="#000" stroke="#000" stroke-width="1.4" style="letter-spacing:-0.508px">T</text>
<text transform="translate(882.75,307.20) scale(0.9617,0.9)" font-size="88.1" font-weight="normal" fill="#000" stroke="#000" stroke-width="1.4" style="letter-spacing:-0.508px">otal</text>
<text transform="translate(1040.41,307.20) scale(0.9617,1.0)" font-size="88.1" font-weight="normal" fill="#000" stroke="#000" stroke-width="1.4" style="letter-spacing:-0.508px">VFA</text>
<text transform="translate(1199.01,307.20) scale(0.9617,0.9)" font-size="88.1" font-weight="normal" fill="#000" stroke="#000" stroke-width="1.4" style="letter-spacing:-0.508px">s</text>
<line x1="562" y1="420.7" x2="819.3" y2="420.7" stroke="#000" stroke-width="3.8"/>
<circle cx="691" cy="420.7" r="26.5" fill="#fff"/><circle cx="691" cy="420.7" r="22" fill="#800080"/>
<text transform="translate(842.50,446.50) scale(0.9617,1.0)" font-size="88.1" font-weight="normal" fill="#000" stroke="#000" stroke-width="1.4" style="letter-spacing:0.433px">A</text>
<text transform="translate(899.41,446.50) scale(0.9617,0.9)" font-size="88.1" font-weight="normal" fill="#000" stroke="#000" stroke-width="1.4" style="letter-spacing:0.433px">cetate</text>
<line x1="562" y1="560.4" x2="819.3" y2="560.4" stroke="#000" stroke-width="3.8"/>
<circle cx="691" cy="560.4" r="26.5" fill="#fff"/><circle cx="691" cy="560.4" r="22" fill="#FF8000"/>
<text transform="translate(841.00,588.40) scale(0.9617,1.0)" font-size="88.1" font-weight="normal" fill="#000" stroke="#000" stroke-width="1.4" style="letter-spacing:-1.109px">P</text>
<text transform="translate(896.42,588.40) scale(0.9617,0.9)" font-size="88.1" font-weight="normal" fill="#000" stroke="#000" stroke-width="1.4" style="letter-spacing:-1.109px">ropionate</text>
<line x1="562" y1="701.6" x2="819.3" y2="701.6" stroke="#000" stroke-width="3.8"/>
<circle cx="691" cy="701.6" r="26.5" fill="#fff"/><circle cx="691" cy="701.6" r="22" fill="#FA3B3F"/>
<text transform="translate(841.70,728.00) scale(0.9617,1.0)" font-size="88.1" font-weight="normal" fill="#000" stroke="#000" stroke-width="1.4" style="letter-spacing:0.431px">B</text>
<text transform="translate(898.60,728.00) scale(0.9617,0.9)" font-size="88.1" font-weight="normal" fill="#000" stroke="#000" stroke-width="1.4" style="letter-spacing:0.431px">utyrate</text>
</svg></body></html>
